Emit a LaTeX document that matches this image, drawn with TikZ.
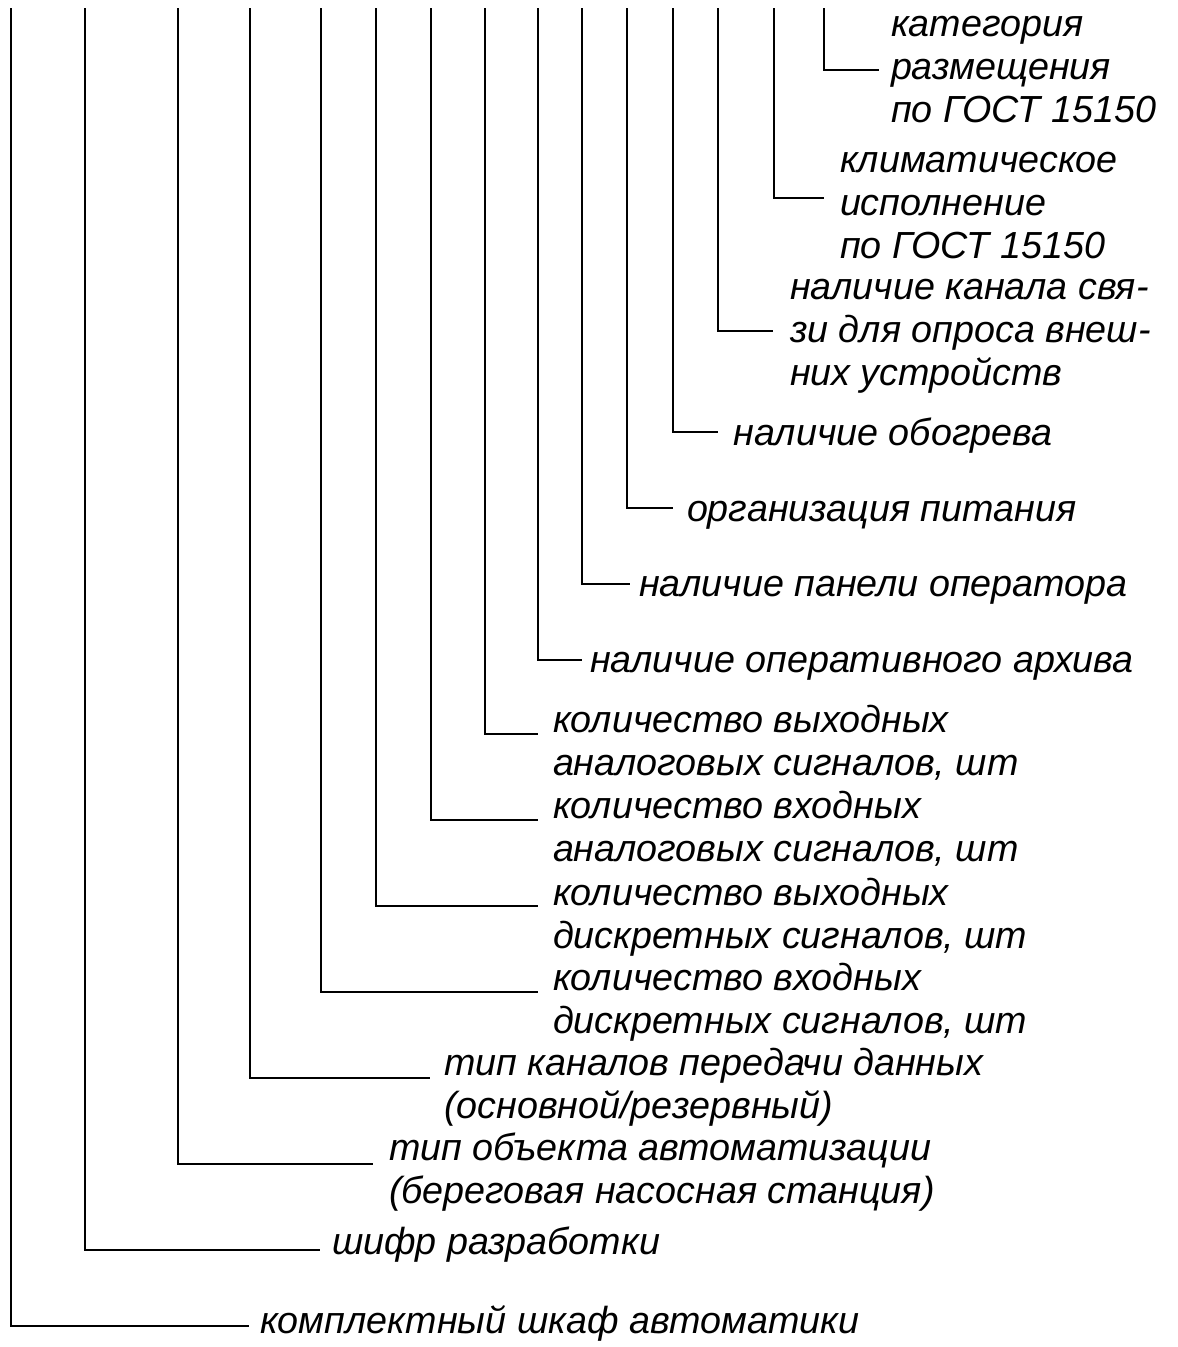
\documentclass[tikz,border=0pt]{standalone}
\usepackage{fontspec}
\setmainfont{Liberation Sans}
\begin{document}
\begin{tikzpicture}[x=1pt,y=-1pt,
  lbl/.style={anchor=north west, yshift=30.1pt, inner sep=0pt, outer sep=0pt, align=left,
    font=\itshape\fontsize{37.7}{43}\selectfont},
  lead/.style={draw=black, line width=2.6pt}]
\useasboundingbox (0,0) rectangle (1178,1347);
% tops of the vertical lines
\def\topy{8}
\coordinate (t1)  at (824,\topy);
\coordinate (t2)  at (774,\topy);
\coordinate (t3)  at (718,\topy);
\coordinate (t4)  at (673,\topy);
\coordinate (t5)  at (627,\topy);
\coordinate (t6)  at (582,\topy);
\coordinate (t7)  at (538,\topy);
\coordinate (t8)  at (485,\topy);
\coordinate (t9)  at (431,\topy);
\coordinate (t10) at (376,\topy);
\coordinate (t11) at (321,\topy);
\coordinate (t12) at (250,\topy);
\coordinate (t13) at (178,\topy);
\coordinate (t14) at (85,\topy);
\coordinate (t15) at (11,\topy);
% ends of the horizontal lines
\coordinate (e1)  at (879,70);
\coordinate (e2)  at (824,198);
\coordinate (e3)  at (773,331);
\coordinate (e4)  at (718,432);
\coordinate (e5)  at (673,508);
\coordinate (e6)  at (630,584);
\coordinate (e7)  at (582,660);
\coordinate (e8)  at (538,734);
\coordinate (e9)  at (538,820);
\coordinate (e10) at (538,906);
\coordinate (e11) at (538,992);
\coordinate (e12) at (430,1078);
\coordinate (e13) at (373,1164);
\coordinate (e14) at (320,1250);
\coordinate (e15) at (249,1326);
% labels (position = left end of the first baseline)
\node[lbl] (l1)  at (891,36)    {\strut категория\\\strut размещения\\\strut по ГОСТ 15150};
\node[lbl] (l2)  at (840,172)   {\strut климатическое\\\strut исполнение\\\strut по ГОСТ 15150};
\node[lbl] (l3)  at (790,299)   {\strut наличие канала свя-\\\strut зи для опроса внеш-\\\strut них устройств};
\node[lbl] (l4)  at (733.5,445) {\strut наличие обогрева};
\node[lbl] (l5)  at (687,521)   {\strut организация питания};
\node[lbl] (l6)  at (639,596)   {\strut наличие панели оператора};
\node[lbl] (l7)  at (590,672)   {\strut наличие оперативного архива};
\node[lbl] (l8)  at (553,732)   {\strut количество выходных\\\strut аналоговых сигналов, шт};
\node[lbl] (l9)  at (553,818)   {\strut количество входных\\\strut аналоговых сигналов, шт};
\node[lbl] (l10) at (553,905)   {\strut количество выходных\\\strut дискретных сигналов, шт};
\node[lbl] (l11) at (553,990)   {\strut количество входных\\\strut дискретных сигналов, шт};
\node[lbl] (l12) at (444,1075)  {\strut тип каналов передачи данных\\\strut (основной/резервный)};
\node[lbl] (l13) at (389,1160)  {\strut тип объекта автоматизации\\\strut (береговая насосная станция)};
\node[lbl] (l14) at (332,1254)  {\strut шифр разработки};
\node[lbl] (l15) at (260,1333)  {\strut комплектный шкаф автоматики};
% leaders
\foreach \i in {1,...,15} {\draw[lead] (t\i) |- (e\i);}
\end{tikzpicture}
\end{document}
